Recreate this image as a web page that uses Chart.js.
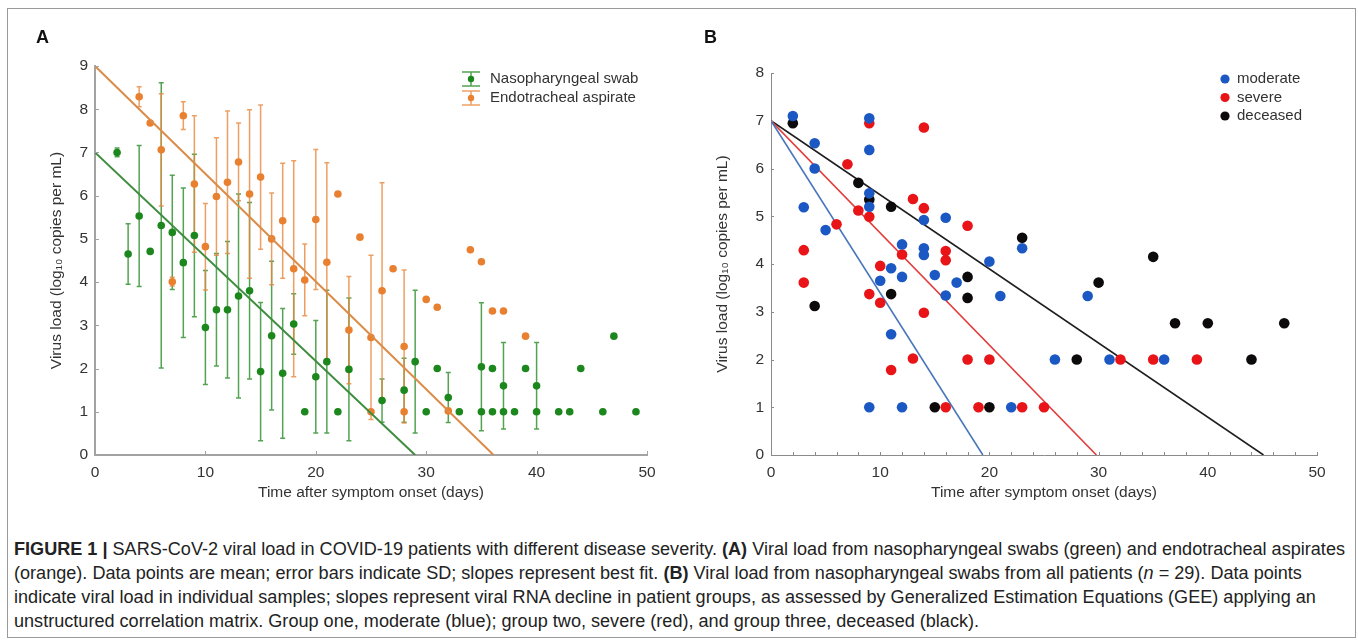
<!DOCTYPE html>
<html>
<head>
<meta charset="utf-8">
<script src="https://cdn.jsdelivr.net/npm/chart.js@4.4.1/dist/chart.umd.min.js"></script>
<style>
  body { margin: 0; background: #fff; width: 1358px; height: 641px; overflow: hidden; position: relative; font-family: "Liberation Sans", Arial, sans-serif; }
  #frame { position: absolute; left: 7px; top: 8px; width: 1349px; height: 630px; border: 1px solid #9a9a9a; box-sizing: border-box; }
  .wrap { position: absolute; top: 0; height: 510px; }
  #wrapA { left: 0; width: 690px; }
  #wrapB { left: 690px; width: 668px; }
  .tag { position: absolute; top: 27px; font: bold 18px "Liberation Sans", Arial, sans-serif; color: #111; }
  #caption { position: absolute; left: 14px; top: 537px; font-family: "Liberation Sans Narrow", "Liberation Sans", Arial, sans-serif; font-size: 17.5px; line-height: 24px; color: #222; white-space: nowrap; transform-origin: 0 0; }
</style>
</head>
<body>
<div id="frame"></div>
<div class="wrap" id="wrapA"><canvas id="chartA"></canvas></div>
<div class="wrap" id="wrapB"><canvas id="chartB"></canvas></div>
<div class="tag" style="left:36px">A</div>
<div class="tag" style="left:704px">B</div>
<div id="caption">
  <div><span id="cap1"><b>FIGURE 1 |</b> SARS-CoV-2 viral load in COVID-19 patients with different disease severity. <b>(A)</b> Viral load from nasopharyngeal swabs (green) and endotracheal aspirates</span></div>
  <div>(orange). Data points are mean; error bars indicate SD; slopes represent best fit. <b>(B)</b> Viral load from nasopharyngeal swabs from all patients (<i>n</i> = 29). Data points</div>
  <div>indicate viral load in individual samples; slopes represent viral RNA decline in patient groups, as assessed by Generalized Estimation Equations (GEE) applying an</div>
  <div>unstructured correlation matrix. Group one, moderate (blue); group two, severe (red), and group three, deceased (black).</div>
</div>
<script>
// panel A - mean and SD per day (0 = no error bar drawn)
const nasoDays = [2,3,4,5,6,7,8,9,10,11,12,13,14,15,16,17,18,19,20,21,22,23,26,28,29,30,31,32,33,35,35,36,36,37,37,38,39,40,40,42,43,44,46,47,49];
const nasoMean = [7.0,4.65,5.53,4.71,5.31,5.15,4.45,5.08,2.95,3.36,3.36,3.68,3.8,1.93,2.76,1.89,3.03,1.0,1.81,2.16,1.0,1.98,1.26,1.5,2.16,1.0,2.0,1.33,1.0,2.04,1.0,2.0,1.0,1.6,1.0,1.0,2.0,1.6,1.0,1.0,1.0,2.0,1.0,2.75,1.0];
const nasoSd   = [0.1,0.7,1.63,0,3.3,1.32,1.73,1.88,1.32,1.3,1.58,2.36,2.04,1.6,1.72,1.5,0.7,0,1.3,1.65,0,1.65,0.5,0.74,1.65,0,0,0.58,0,1.48,0,0,0,1.0,0,0,0,1.0,0,0,0,0,0,0,0];

const endoDays = [4,5,6,7,8,9,10,11,12,13,14,15,16,17,18,19,20,21,22,23,24,25,25,26,27,28,28,30,31,32,34,35,36,37,39];
const endoMean = [8.29,7.68,7.06,4.01,7.85,6.27,4.82,5.98,6.31,6.78,6.04,6.43,5.0,5.42,4.31,4.05,5.45,4.46,6.04,2.89,5.04,2.72,1.0,3.8,4.31,2.51,1.0,3.6,3.42,1.02,4.75,4.47,3.33,3.33,2.75];
const endoSd   = [0.23,0,1.3,0.1,0.32,1.58,1.0,1.36,1.65,0.9,1.95,1.67,1.06,1.33,2.5,0.83,1.62,2.3,0,1.24,0,1.9,0,2.5,0,1.77,0,0,0,0,0,0,0,0,0];

// best fit lines, panel A
const nasoFitX = [0, 29.0];
const nasoFitY = [7, 0];
const endoFitX = [0, 36.1];
const endoFitY = [9, 0];

// panel B - individual samples
const moderateDays = [2,3,4,4,5,9,9,9,9,9,10,11,11,12,12,12,14,14,14,15,16,16,17,20,21,22,23,26,29,31,36];
const moderateLoad = [7.1,5.19,6.53,6.0,4.71,7.05,6.39,5.48,5.2,1.0,3.65,3.91,2.53,4.41,3.73,1.0,4.92,4.33,4.19,3.77,4.97,3.34,3.61,4.05,3.33,1.0,4.33,2.0,3.33,2.0,2.0];
const severeDays = [3,3,6,7,8,9,9,9,10,10,11,12,13,13,14,14,14,16,16,16,18,18,19,20,23,25,32,35,39];
const severeLoad = [4.29,3.61,4.83,6.09,5.12,6.95,4.99,3.37,3.96,3.19,1.78,4.2,5.36,2.02,6.86,5.17,2.98,4.27,4.08,1.0,4.8,2.0,1.0,2.0,1.0,1.0,2.0,2.0,2.0];
const deceasedDays = [2,4,8,9,11,11,15,18,18,20,23,28,30,35,37,40,44,47];
const deceasedLoad = [6.95,3.12,5.7,5.35,5.2,3.37,1.0,3.73,3.29,1.0,4.55,2.0,3.61,4.15,2.76,2.76,2.0,2.76];

// GEE slopes, panel B
const moderateFitX = [0, 19.4];
const severeFitX = [0, 29.8];
const deceasedFitX = [0, 45.1];
const groupFitY = [7, 0];

const yTitle = 'Virus load (log\u2081\u2080 copies per mL)';
const xTitle = 'Time after symptom onset (days)';

const pts = (xs, ys) => xs.map((x, i) => ({ x: x, y: ys[i] }));

// draws the SD bars under the mean points
const errorBars = {
  id: 'errorBars',
  beforeDatasetsDraw(chart) {
    const { ctx, scales: { x, y } } = chart;
    chart.data.datasets.forEach(ds => {
      if (!ds.sd) return;
      ctx.save();
      ctx.strokeStyle = ds.barColor;
      ctx.lineWidth = 1.5;
      ds.data.forEach((p, i) => {
        const s = ds.sd[i];
        if (!s) return;
        const px = x.getPixelForValue(p.x);
        const t = y.getPixelForValue(p.y + s);
        const b = y.getPixelForValue(p.y - s);
        ctx.beginPath();
        ctx.moveTo(px, t); ctx.lineTo(px, b);
        ctx.moveTo(px - 2.5, t); ctx.lineTo(px + 2.5, t);
        ctx.moveTo(px - 2.5, b); ctx.lineTo(px + 2.5, b);
        ctx.stroke();
      });
      ctx.restore();
    });
  }
};

// small inward ticks on the axes
const innerTicks = {
  id: 'innerTicks',
  afterDraw(chart, args, o) {
    const { ctx, scales: { x, y } } = chart;
    ctx.save();
    ctx.strokeStyle = o.color;
    ctx.lineWidth = 1;
    ctx.beginPath();
    for (let v = x.min; v <= x.max + 1e-6; v += o.xStep) {
      const px = Math.round(x.getPixelForValue(v)) + 0.5;
      ctx.moveTo(px, y.bottom); ctx.lineTo(px, y.bottom - o.len);
    }
    for (let v = y.min; v <= y.max + 1e-6; v += o.yStep) {
      const py = Math.round(y.getPixelForValue(v)) + 0.5;
      ctx.moveTo(x.left, py); ctx.lineTo(x.left + o.len, py);
    }
    ctx.stroke();
    ctx.restore();
  }
};

// legend drawn by hand so the error bar glyph can be shown
const sideLegend = {
  id: 'sideLegend',
  afterDraw(chart, args, o) {
    const { ctx } = chart;
    ctx.save();
    ctx.font = '15px "Liberation Sans", Arial, sans-serif';
    ctx.textBaseline = 'middle';
    o.items.forEach((it, i) => {
      const ds = chart.data.datasets[it];
      const cy = o.y + i * o.gap;
      const cx = o.x;
      if (o.bars) {
        ctx.strokeStyle = ds.barColor;
        ctx.lineWidth = 1.5;
        ctx.beginPath();
        ctx.moveTo(cx - 9, cy - 7); ctx.lineTo(cx + 9, cy - 7);
        ctx.moveTo(cx - 9, cy + 7); ctx.lineTo(cx + 9, cy + 7);
        ctx.moveTo(cx, cy - 7); ctx.lineTo(cx, cy + 7);
        ctx.stroke();
      }
      ctx.fillStyle = ds.backgroundColor;
      ctx.beginPath();
      ctx.arc(cx, cy, o.r, 0, Math.PI * 2);
      ctx.fill();
      ctx.fillStyle = '#333';
      ctx.fillText(ds.label, o.textX, cy);
    });
    ctx.restore();
  }
};

function axes(xMax, yMax, yW, yTitlePad, border, bw) {
  const f = { size: 15.5, family: '"Liberation Sans", Arial' };
  return {
    x: {
      type: 'linear', min: 0, max: xMax,
      grid: { display: false, drawTicks: false },
      border: { color: border, width: bw },
      ticks: { stepSize: 10, padding: 8, color: '#333', font: f },
      title: { display: true, text: xTitle, color: '#333', padding: { top: 0, bottom: 8 }, font: f },
      afterFit: s => { s.height = 55; }
    },
    y: {
      type: 'linear', min: 0, max: yMax,
      grid: { display: false, drawTicks: false },
      border: { color: border, width: bw },
      ticks: { stepSize: 1, padding: 7, color: '#333', font: f },
      title: { display: true, text: yTitle, color: '#333', padding: { top: yTitlePad, bottom: 0 }, font: f },
      afterFit: s => { s.width = yW; }
    }
  };
}

const green = 'rgb(28,135,28)';
const orange = 'rgb(232,128,48)';

new Chart(document.getElementById('chartA'), {
  type: 'scatter',
  data: {
    datasets: [
      { label: 'nasoFit', type: 'line', data: pts(nasoFitX, nasoFitY), borderColor: 'rgb(62,140,62)', borderWidth: 2, pointRadius: 0, order: 0 },
      { label: 'endoFit', type: 'line', data: pts(endoFitX, endoFitY), borderColor: 'rgb(218,140,72)', borderWidth: 2, pointRadius: 0, order: 0 },
      { label: 'Nasopharyngeal swab', data: pts(nasoDays, nasoMean), sd: nasoSd, barColor: 'rgba(40,140,40,0.8)', backgroundColor: green, borderWidth: 0, pointRadius: 3.8, order: 1, clip: false },
      { label: 'Endotracheal aspirate', data: pts(endoDays, endoMean), sd: endoSd, barColor: 'rgba(232,135,60,0.8)', backgroundColor: orange, borderWidth: 0, pointRadius: 3.8, order: 2, clip: false }
    ]
  },
  options: {
    responsive: true, maintainAspectRatio: false, animation: false,
    layout: { padding: { top: 66, right: 43, left: 0, bottom: 0 } },
    scales: axes(50, 9, 95, 47, '#a3a3a3', 2),
    plugins: {
      legend: { display: false }, tooltip: { enabled: false },
      innerTicks: { color: '#a3a3a3', xStep: 10, yStep: 1, len: 4 },
      sideLegend: { items: [2, 3], x: 471, y: 79, gap: 19, r: 3.2, textX: 490, bars: true }
    }
  },
  plugins: [errorBars, innerTicks, sideLegend]
});

new Chart(document.getElementById('chartB'), {
  type: 'scatter',
  data: {
    datasets: [
      { label: 'moderate', data: pts(moderateDays, moderateLoad), backgroundColor: 'rgb(28,88,196)', borderWidth: 0, pointRadius: 5.3, order: 1, clip: false },
      { label: 'severe', data: pts(severeDays, severeLoad), backgroundColor: 'rgb(232,20,24)', borderWidth: 0, pointRadius: 5.3, order: 1, clip: false },
      { label: 'deceased', data: pts(deceasedDays, deceasedLoad), backgroundColor: 'rgb(12,10,10)', borderWidth: 0, pointRadius: 5.3, order: 1, clip: false },
      { label: 'moderateFit', type: 'line', data: pts(moderateFitX, groupFitY), borderColor: 'rgb(72,118,186)', borderWidth: 1.6, pointRadius: 0, order: 5 },
      { label: 'severeFit', type: 'line', data: pts(severeFitX, groupFitY), borderColor: 'rgb(226,60,60)', borderWidth: 1.6, pointRadius: 0, order: 5 },
      { label: 'deceasedFit', type: 'line', data: pts(deceasedFitX, groupFitY), borderColor: 'rgb(30,30,30)', borderWidth: 1.6, pointRadius: 0, order: 5 }
    ]
  },
  options: {
    responsive: true, maintainAspectRatio: false, animation: false,
    layout: { padding: { top: 73, right: 41, left: 0, bottom: 0 } },
    scales: axes(50, 8, 81, 23, '#8a8a8a', 1),
    plugins: {
      legend: { display: false }, tooltip: { enabled: false },
      innerTicks: { color: '#8a8a8a', xStep: 2, yStep: 1, len: 3 },
      sideLegend: { items: [0, 1, 2], x: 535, y: 79, gap: 18.5, r: 4.6, textX: 547, bars: false }
    }
  },
  plugins: [innerTicks, sideLegend]
});

// squeeze the caption so the first line spans the figure width
const cap = document.getElementById('caption');
const textW = document.getElementById('cap1').getBoundingClientRect().width;
cap.style.transform = 'scaleX(' + (1331 / textW) + ')';
</script>
</body>
</html>
